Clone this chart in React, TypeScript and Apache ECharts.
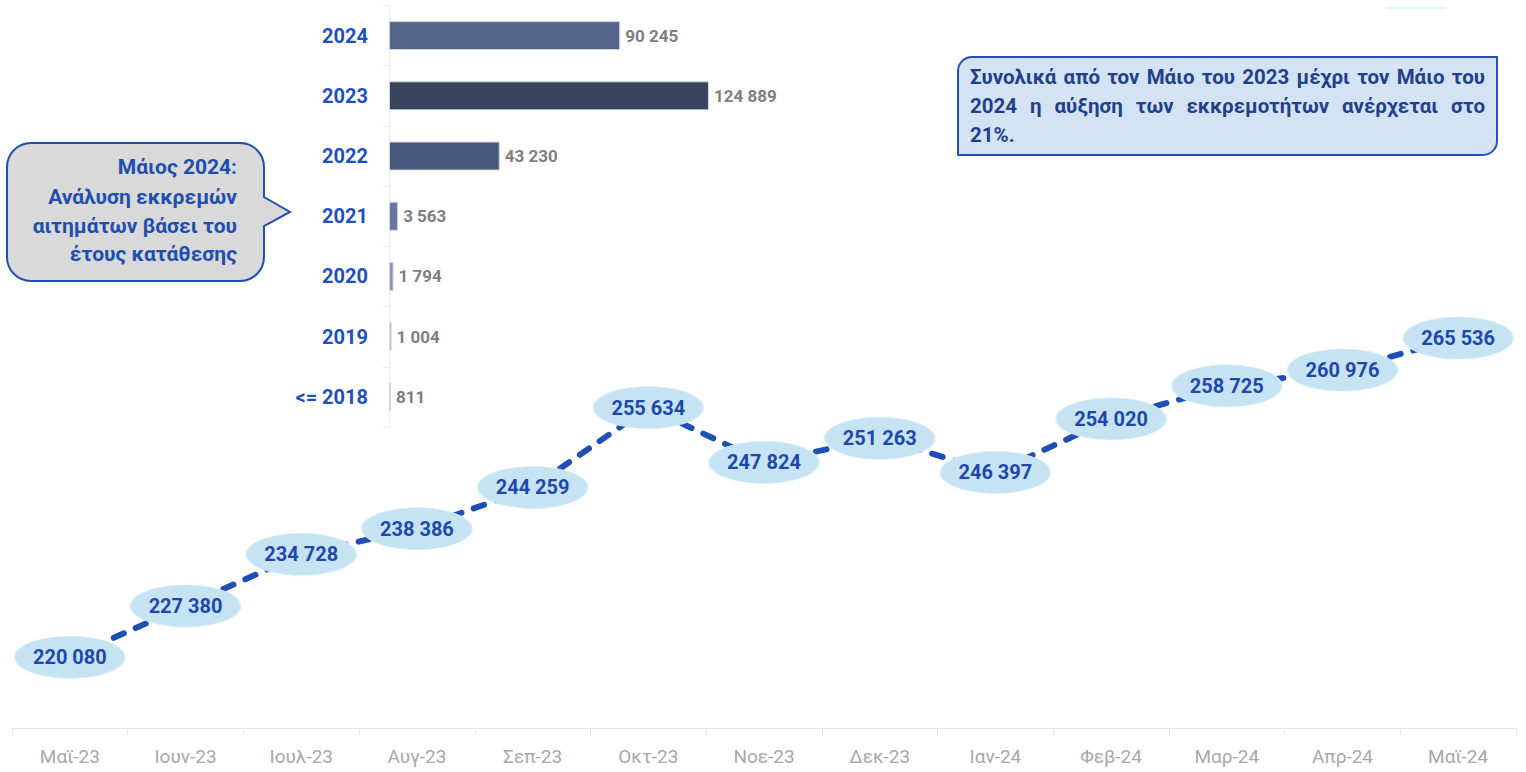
import React, { useEffect, useRef } from "react";
import * as echarts from "echarts";

const months = ["Μαϊ-23", "Ιουν-23", "Ιουλ-23", "Αυγ-23", "Σεπ-23", "Οκτ-23", "Νοε-23", "Δεκ-23", "Ιαν-24", "Φεβ-24", "Μαρ-24", "Απρ-24", "Μαϊ-24"];
const pending = [220080, 227380, 234728, 238386, 244259, 255634, 247824, 251263, 246397, 254020, 258725, 260976, 265536];
const years = ["2024", "2023", "2022", "2021", "2020", "2019", "<= 2018"];
const yearValues = [90245, 124889, 43230, 3563, 1794, 1004, 811];
const yearColors = ["#55668a", "#38445e", "#48587c", "#6678a2", "#8796bb", "#aab5d0", "#c8d0e2"];

const calloutLines = ["Μάιος 2024:", "Ανάλυση εκκρεμών", "αιτημάτων βάσει του", "έτους κατάθεσης"];
const noteLines = [
  "Συνολικά από τον Μάιο του 2023 μέχρι τον Μάιο του",
  "2024 η αύξηση των εκκρεμοτήτων ανέρχεται στο",
  "21%.",
];

const FONT = "Roboto, 'Noto Sans', sans-serif";

const fmt = (n: number) => String(n).replace(/\B(?=(\d{3})+(?!\d))/g, " ");

function measure(text: string, font: string): number {
  const c = document.createElement("canvas").getContext("2d");
  if (!c) return text.length * 10;
  c.font = font;
  return c.measureText(text).width;
}

function justified(line: string, x0: number, x1: number, y: number, font: string, fill: string): any[] {
  const words = line.split(" ");
  const widths = words.map((w) => measure(w, font));
  const total = widths.reduce((a, b) => a + b, 0);
  const gap = words.length > 1 ? (x1 - x0 - total) / (words.length - 1) : 0;
  let x = x0;
  return words.map((w, i) => {
    const el = {
      type: "text",
      x,
      y,
      z: 20,
      style: { text: w, font, fill, textAlign: "left", textVerticalAlign: "middle", align: "left", verticalAlign: "middle" },
    };
    x += widths[i] + gap;
    return el;
  });
}

echarts.graphic.registerShape(
  "calloutShape",
  echarts.graphic.extendPath(
    "M 31 143 H 240 A 24 24 0 0 1 264 167 V 197 L 290 212 L 264 226 V 257 A 24 24 0 0 1 240 281 H 31 A 24 24 0 0 1 7 257 V 167 A 24 24 0 0 1 31 143 Z",
    {}
  ) as any
);

export default function App() {
  const ref = useRef<HTMLDivElement>(null);
  useEffect(() => {
    if (!ref.current) return;
    const chart = echarts.init(ref.current, null, { renderer: "svg" });
    const noteFont = `bold 20.5px ${FONT}`;
    const calloutFont = `bold 21px ${FONT}`;
    const graphics: any[] = [
      {
        type: "calloutShape",
        x: 0,
        y: 0,
        z: 10,
        style: { fill: "#d9d9d9", stroke: "#1f4fae", lineWidth: 2 },
      },
      ...calloutLines.map((t, i) => ({
        type: "text",
        x: 237,
        y: [167, 197, 226, 254][i],
        z: 20,
        style: { text: t, font: calloutFont, fill: "#1e4fb0", textAlign: "right", textVerticalAlign: "middle", align: "right", verticalAlign: "middle" },
      })),
      {
        type: "rect",
        z: 10,
        shape: { x: 958, y: 57, width: 539, height: 98, r: [14, 0, 14, 0] },
        style: { fill: "#d3e3f3", stroke: "#2352b3", lineWidth: 2 },
      },
      ...justified(noteLines[0], 970, 1485, 77, noteFont, "#233f8c"),
      ...justified(noteLines[1], 970, 1485, 106, noteFont, "#233f8c"),
      {
        type: "text",
        x: 970,
        y: 135,
        z: 20,
        style: { text: noteLines[2], font: noteFont, fill: "#233f8c", textAlign: "left", textVerticalAlign: "middle", align: "left", verticalAlign: "middle" },
      },
      {
        type: "line",
        z: 5,
        shape: { x1: 1386, y1: 8, x2: 1446, y2: 8 },
        style: { stroke: "#dcf4f0", lineWidth: 1.5 },
      },
    ];

    chart.setOption({
      animation: false,
      graphic: graphics,
      grid: [
        { left: 12, right: 10, top: 96, bottom: 44 },
        { left: 389, width: 512.4, top: 5.5, height: 421.5 },
      ],
      xAxis: [
        {
          type: "category",
          gridIndex: 0,
          data: months,
          boundaryGap: true,
          axisLine: { lineStyle: { color: "#e6e6e6", width: 1 } },
          axisTick: { show: true, length: 7, lineStyle: { color: "#e6e6e6" } },
          axisLabel: { color: "#a8a8a8", fontSize: 19, fontFamily: FONT, margin: 19 },
        },
        {
          type: "value",
          gridIndex: 1,
          min: 0,
          max: 200000,
          show: false,
          splitLine: { show: false },
        },
      ],
      yAxis: [
        {
          type: "value",
          gridIndex: 0,
          min: 210000,
          max: 300000,
          show: false,
          splitLine: { show: false },
        },
        {
          type: "category",
          gridIndex: 1,
          data: years,
          inverse: true,
          axisLine: { show: true, lineStyle: { color: "#eeeeee", width: 1 } },
          axisTick: { show: true, length: 6, lineStyle: { color: "#eeeeee" } },
          axisLabel: { color: "#1f4fbf", fontSize: 20, fontWeight: "bold", fontFamily: FONT, margin: 21 },
        },
      ],
      series: [
        {
          type: "line",
          xAxisIndex: 0,
          yAxisIndex: 0,
          data: pending,
          symbol: "none",
          z: 2,
          lineStyle: { color: "#1f4fb5", width: 6, type: [11, 13], cap: "round" },
        },
        {
          type: "scatter",
          xAxisIndex: 0,
          yAxisIndex: 0,
          data: pending,
          symbol: "circle",
          symbolSize: [110, 42],
          z: 3,
          itemStyle: { color: "#c5e3f2", borderColor: "#d6ecf7", borderWidth: 1, opacity: 1 },
          label: {
            show: true,
            position: "inside",
            formatter: (p: any) => fmt(p.value),
            color: "#1f48ad",
            fontSize: 20,
            fontWeight: "bold",
            fontFamily: FONT,
          },
        },
        {
          type: "bar",
          xAxisIndex: 1,
          yAxisIndex: 1,
          barWidth: 29,
          data: yearValues.map((v, i) => ({ value: v, itemStyle: { color: yearColors[i] } })),
          itemStyle: { borderColor: "#d3d7df", borderWidth: 1 },
          label: {
            show: true,
            position: "right",
            distance: 5,
            formatter: (p: any) => fmt(p.value),
            color: "#7f7f7f",
            fontSize: 17,
            fontWeight: "bold",
            fontFamily: FONT,
          },
        },
      ],
    });
    return () => chart.dispose();
  }, []);
  return <div ref={ref} style={{ position: "fixed", left: 0, top: 0, width: 1526, height: 772, background: "#fff" }} />;
}
